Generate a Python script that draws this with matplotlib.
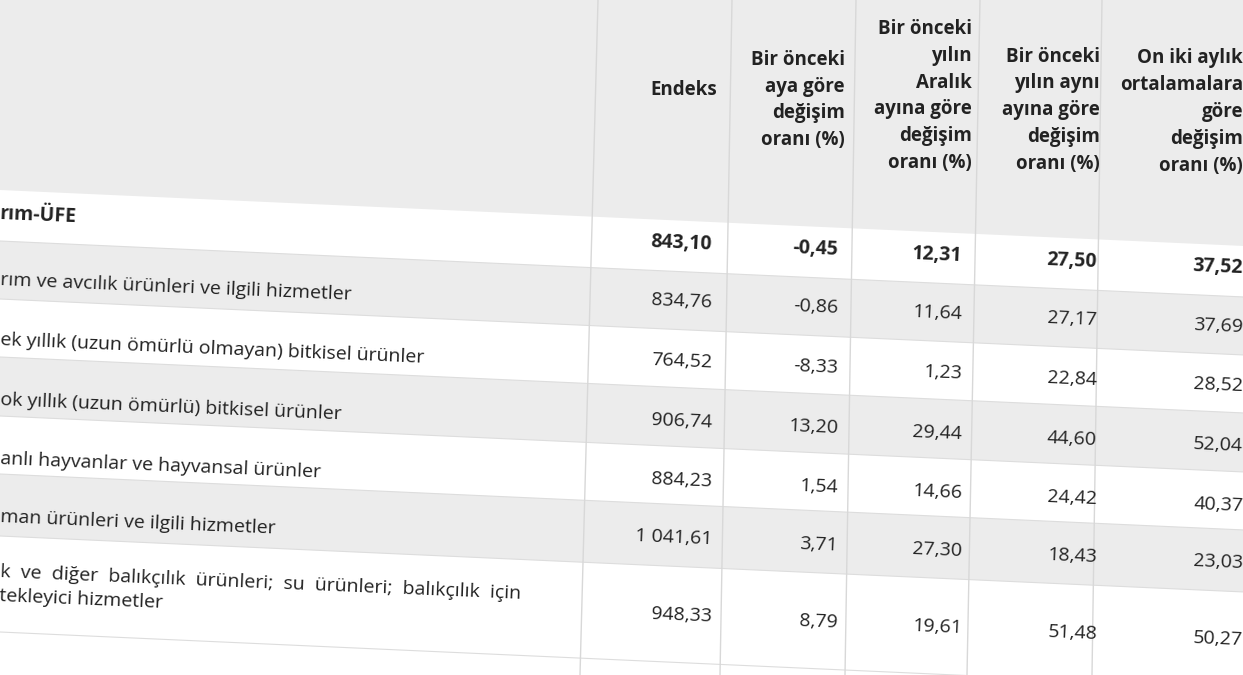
import matplotlib
matplotlib.use("Agg")
import matplotlib.pyplot as plt
from matplotlib.patches import Polygon

headers = ["Endeks", "Bir önceki\naya göre\ndeğişim\noranı (%)",
           "Bir önceki\nyılın\nAralık\nayına göre\ndeğişim\noranı (%)",
           "Bir önceki\nyılın aynı\nayına göre\ndeğişim\noranı (%)",
           "On iki aylık\nortalamalara\ngöre\ndeğişim\noranı (%)"]
labels = ["rım-ÜFE",
          "rım ve avcılık ürünleri ve ilgili hizmetler",
          "ek yıllık (uzun ömürlü olmayan) bitkisel ürünler",
          "ok yıllık (uzun ömürlü) bitkisel ürünler",
          "anlı hayvanlar ve hayvansal ürünler",
          "man ürünleri ve ilgili hizmetler",
          "k  ve  diğer  balıkçılık  ürünleri;  su  ürünleri;  balıkçılık  için\ntekleyici hizmetler"]
endeks = ["843,10", "834,76", "764,52", "906,74", "884,23", "1 041,61", "948,33"]
aylik = ["-0,45", "-0,86", "-8,33", "13,20", "1,54", "3,71", "8,79"]
aralik = ["12,31", "11,64", "1,23", "29,44", "14,66", "27,30", "19,61"]
yillik = ["27,50", "27,17", "22,84", "44,60", "24,42", "18,43", "51,48"]
ortalama = ["37,52", "37,69", "28,52", "52,04", "40,37", "23,03", "50,27"]

W, H = 1243, 675
fig = plt.figure(figsize=(W/100, H/100), dpi=100)
ax = fig.add_axes([0, 0, 1, 1])
ax.set_xlim(0, W); ax.set_ylim(H, 0); ax.axis("off")
slope = 0.045
rot = -2.4
def sy(y, x): return y + slope * x

gray = "#ececec"
bounds = [190, 241, 299, 357, 416, 474, 536, 632]
row_c = [214, 272, 332, 392, 451, 509, 586]

# header background
ax.add_patch(Polygon([(0, 0), (W, 0), (W, sy(bounds[0], W)), (0, sy(bounds[0], 0))], color=gray, lw=0))
for i in range(7):
    if i % 2 == 1:
        y0, y1 = bounds[i], bounds[i+1]
        ax.add_patch(Polygon([(0, sy(y0, 0)), (W, sy(y0, W)), (W, sy(y1, W)), (0, sy(y1, 0))], color=gray, lw=0))
for b in bounds[1:]:
    ax.plot([0, W], [sy(b, 0), sy(b, W)], color="#dddddd", lw=0.8)

# vertical separators
for xt, xb in [(598, 580), (732, 720), (856, 845), (980, 967), (1102, 1092)]:
    ax.plot([xt, xb], [0, H], color="#d8d8d8", lw=1)

hdr_right = [717, 845, 972, 1100, 1243]
hdr_y = [90, 100, 96, 110, 112]
for x, y, t in zip(hdr_right, hdr_y, headers):
    ax.text(x, y, t, ha="right", va="center", fontsize=13.5, fontweight="bold",
            color="#222222", linespacing=1.45, family="Open Sans", rotation=0)

val_right = [712, 838, 962, 1097, 1243]
cols = [endeks, aylik, aralik, yillik, ortalama]
for i in range(7):
    fw = "bold" if i == 0 else "normal"
    lx = 0
    ly = row_c[i] + (0 if i == 0 else 8) + (-10 if i == 6 else 0)
    ax.text(lx, ly, labels[i], ha="left", va="center", fontsize=14,
            fontweight=fw, color="#222222", family="Open Sans", rotation=rot,
            rotation_mode="anchor", linespacing=1.5)
    for x, col in zip(val_right, cols):
        ax.text(x, sy(row_c[i], x - 30), col[i], ha="right", va="center",
                fontsize=14, fontweight=fw, color="#222222", family="Open Sans",
                rotation=rot, rotation_mode="anchor")

fig.savefig("out.png", dpi=100)
